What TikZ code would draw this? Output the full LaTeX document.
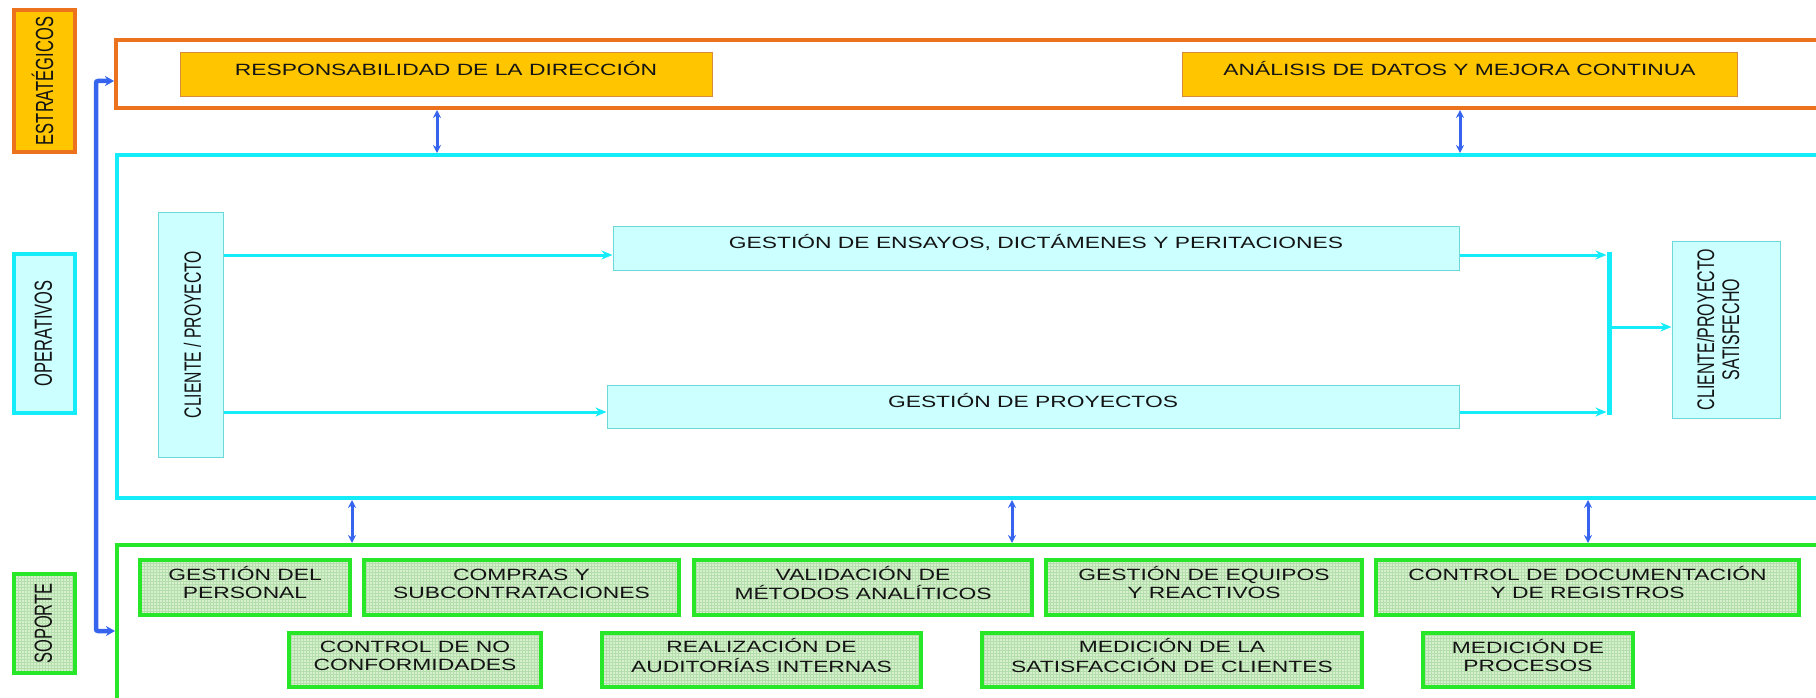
\documentclass[tikz,border=0pt]{standalone}
\usepackage{fontspec}
\setmainfont{Liberation Sans}
\usepackage{graphicx}
\usetikzlibrary{arrows.meta,patterns}

\definecolor{orng}{RGB}{236,114,30}
\definecolor{ambar}{RGB}{255,198,0}
\definecolor{ambarline}{RGB}{214,140,60}
\definecolor{cyanline}{RGB}{20,236,250}
\definecolor{cyanfill}{RGB}{204,255,255}
\definecolor{cyanthin}{RGB}{110,215,215}
\definecolor{grn}{RGB}{40,230,40}
\definecolor{grnfill}{RGB}{214,240,206}
\definecolor{grngrid}{RGB}{180,222,172}
\definecolor{blu}{RGB}{55,100,238}
\definecolor{ink}{RGB}{20,20,20}

% horizontal text, widened 1.4x, optionally lifted
\newcommand{\htx}[2][0pt]{\raisebox{#1}[\height][\depth]{\scalebox{1.4}[1]{\begin{tabular}{@{}c@{}}#2\end{tabular}}}}
% vertical text (reads upwards), letters widened 1.5x across
\newcommand{\vtx}[2][0pt]{\rotatebox{90}{\raisebox{#1}[\height][\depth]{\scalebox{1}[1.5]{\begin{tabular}{@{}c@{}}#2\end{tabular}}}}}

\begin{document}
\begin{tikzpicture}[x=1pt,y=-1pt,
  every node/.style={inner sep=0pt, text=ink},
  sz/.style 2 args={minimum width=#1, minimum height=#2},
  txt/.style={font=\fontsize{16.3}{18.3}\selectfont},
  lbl/.style={line width=4pt, font=\fontsize{16.5}{18}\selectfont},
  frame/.style={line width=4pt},
  ambox/.style={fill=ambar, draw=ambarline, line width=0.9pt, txt},
  cybox/.style={fill=cyanfill, draw=cyanthin, line width=1pt, txt},
  grbox/.style={draw=grn, line width=4pt, preaction={fill=grnfill},
                pattern=grid, pattern color=grngrid, txt},
  cyar/.style={draw=cyanline, line width=3pt, -{Stealth[length=11pt,width=9pt]}},
  bldbl/.style={draw=blu, line width=3pt, {Stealth[length=8pt,width=8pt]}-{Stealth[length=8pt,width=8pt]}},
  blline/.style={draw=blu, line width=4.5pt, rounded corners=2pt,
                 {Stealth[length=9pt,width=10pt]}-{Stealth[length=9pt,width=10pt]}}
]
\useasboundingbox (0,0) rectangle (1816,698);

% level labels on the left
\node[lbl, draw=orng, fill=ambar, sz={61}{142}] (lblE) at (44.5,81) {\vtx[-2pt]{ESTRATÉGICOS}};
\node[lbl, draw=cyanline, fill=cyanfill, sz={61}{159}] (lblO) at (44.5,333.5) {\vtx[-2pt]{OPERATIVOS}};
\node[lbl, draw=grn, preaction={fill=grnfill}, pattern=grid, pattern color=grngrid, sz={61}{99}] (lblS) at (44.5,623.5) {\vtx[-2pt]{SOPORTE}};

% level frames (open to the right and bottom)
\node[frame, draw=orng, sz={1724}{68}] (frE) at (978,74) {};
\node[frame, draw=cyanline, sz={1723}{343}] (frO) at (978.5,326.5) {};
\node[frame, draw=grn, sz={1723}{195}] (frS) at (978.5,642.5) {};

% strategic processes
\node[ambox, sz={532}{44}] (resp) at (446,74) {\htx[3pt]{RESPONSABILIDAD DE LA DIRECCIÓN}};
\node[ambox, sz={555}{44}] (anal) at (1459.5,74) {\htx[3pt]{ANÁLISIS DE DATOS Y MEJORA CONTINUA}};

% operative processes
\node[cybox, sz={65}{245}, font=\fontsize{15.7}{18}\selectfont] (cli) at (190.5,334.5) {\vtx[-5pt]{CLIENTE / PROYECTO}};
\node[cybox, sz={846}{44}] (ens) at (1036,248) {\htx[4pt]{GESTIÓN DE ENSAYOS, DICTÁMENES Y PERITACIONES}};
\node[cybox, sz={852}{43}] (proy) at (1033,406.5) {\htx[3.5pt]{GESTIÓN DE PROYECTOS}};
\node[cybox, sz={108}{177}, font=\fontsize{16}{16.7}\selectfont] (sat) at (1726,329.5) {\vtx[4.5pt]{CLIENTE/PROYECTO\\SATISFECHO}};

% support processes
\node[grbox, sz={210}{55}] (gp) at (245,587.5) {\htx[2pt]{GESTIÓN DEL\\PERSONAL}};
\node[grbox, sz={315}{55}] (cs) at (521.5,587.5) {\htx[2pt]{COMPRAS Y\\SUBCONTRATACIONES}};
\node[grbox, sz={338}{55}] (val) at (863,587.5) {\htx[2pt]{VALIDACIÓN DE\\MÉTODOS ANALÍTICOS}};
\node[grbox, sz={316}{55}] (geq) at (1204,587.5) {\htx[2pt]{GESTIÓN DE EQUIPOS\\Y REACTIVOS}};
\node[grbox, sz={423}{55}] (cdoc) at (1587.5,587.5) {\htx[2pt]{CONTROL DE DOCUMENTACIÓN\\Y DE REGISTROS}};
\node[grbox, sz={252}{54}] (cnc) at (415,660) {\htx[2pt]{CONTROL DE NO\\CONFORMIDADES}};
\node[grbox, sz={319}{54}] (aud) at (761.5,660) {\htx[2pt]{REALIZACIÓN DE\\AUDITORÍAS INTERNAS}};
\node[grbox, sz={380}{54}] (msc) at (1172,660) {\htx[2pt]{MEDICIÓN DE LA\\SATISFACCIÓN DE CLIENTES}};
\node[grbox, sz={210}{54}] (mproc) at (1528,660) {\htx[2pt]{MEDICIÓN DE\\PROCESOS}};

% reference points for the flow lines
\coordinate (ya) at (0,255);
\coordinate (yb) at (0,412);
\coordinate (bt) at (1606.5,255);
\coordinate (bb) at (1606.5,412);
\coordinate (bm) at (1611.5,327);
\coordinate (lt) at (96,81);
\coordinate (lb) at (96,631);
\coordinate (u1) at (437,0);
\coordinate (u2) at (1460,0);
\coordinate (d1) at (352,0);
\coordinate (d2) at (1012,0);
\coordinate (d3) at (1588,0);

% operative flow
\draw[cyar] (cli.east |- ya) -- (ens.west |- ya);
\draw[cyar] (cli.east |- yb) -- (proy.west |- yb);
\draw[cyar] (ens.east |- ya) -- (bt);
\draw[cyar] (proy.east |- yb) -- (bb);
\draw[draw=cyanline, line width=5pt] (1609,252) -- (1609,415);
\draw[cyar] (bm) -- (sat.west |- bm);

% links between levels
\draw[bldbl] (frE.south -| u1) -- (frO.north -| u1);
\draw[bldbl] (frE.south -| u2) -- (frO.north -| u2);
\draw[bldbl] (frO.south -| d1) -- (frS.north -| d1);
\draw[bldbl] (frO.south -| d2) -- (frS.north -| d2);
\draw[bldbl] (frO.south -| d3) -- (frS.north -| d3);
\draw[blline] (frE.west |- lt) -- (lt) -- (lb) -- (frS.west |- lb);
\end{tikzpicture}
\end{document}
